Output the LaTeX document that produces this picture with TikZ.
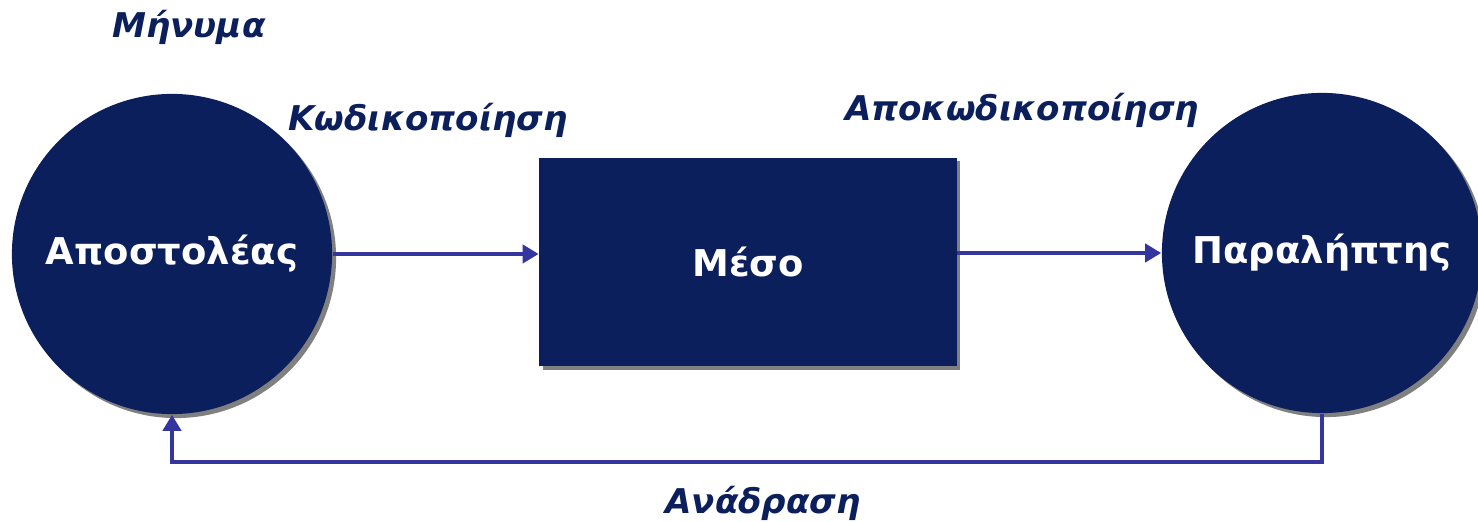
\documentclass[tikz,border=0pt]{standalone}
\usepackage{fontspec}
\setmainfont{DejaVu Sans}
\usetikzlibrary{arrows.meta,shadows}

\definecolor{navy}{HTML}{0B1F5C}
\definecolor{flowblue}{HTML}{3535A0}

\tikzset{
  party/.style={circle, fill=navy, minimum size=3.2cm, inner sep=0pt,
    text=white, font=\fontsize{10.5}{12}\selectfont\bfseries,
    drop shadow={shadow xshift=0.04cm, shadow yshift=-0.04cm, fill=gray, opacity=1}},
  channel/.style={rectangle, fill=navy, minimum width=4.17cm, minimum height=2.08cm,
    inner sep=0pt, text=white, font=\fontsize{10.5}{12}\selectfont\bfseries,
    drop shadow={shadow xshift=0.035cm, shadow yshift=-0.035cm, fill=gray, opacity=1}},
  tag/.style={text=navy, font=\fontsize{9.7}{11}\selectfont\bfseries\itshape, inner sep=0pt},
  flow/.style={draw=flowblue, line width=0.045cm, -{Triangle[length=0.16cm, width=0.18cm]}}
}

\begin{document}
\begin{tikzpicture}[x=0.01cm, y=-0.01cm]
  \useasboundingbox (0,0) rectangle (1478,522);
  \clip (0,0) rectangle (1478,522);

  % the three blocks
  \node[party] (sender) at (172,254) {\raisebox{-0.08cm}{Αποστολέας}};
  \node[channel] (medium) at (748,262) {Μέσο};
  \node[party] (receiver) at (1322,253) {\raisebox{-0.08cm}{Παραλήπτης}};

  % labels
  \node[tag] (message) at (189,27) {Μήνυμα};
  \node[tag] (encode) at (428,120) {Κωδικοποίηση};
  \node[tag] (decode) at (1022,110) {Αποκωδικοποίηση};
  \node[tag] (feedback) at (763,503) {Ανάδραση};

  % connectors
  \draw[flow] (sender.east) -- (medium.west |- sender.east);
  \draw[flow] (medium.east |- receiver.west) -- (receiver.west);

  \coordinate (fbturn) at (748,462);
  \draw[flow] (receiver.south) |- (fbturn) -| (sender.south);
\end{tikzpicture}
\end{document}
